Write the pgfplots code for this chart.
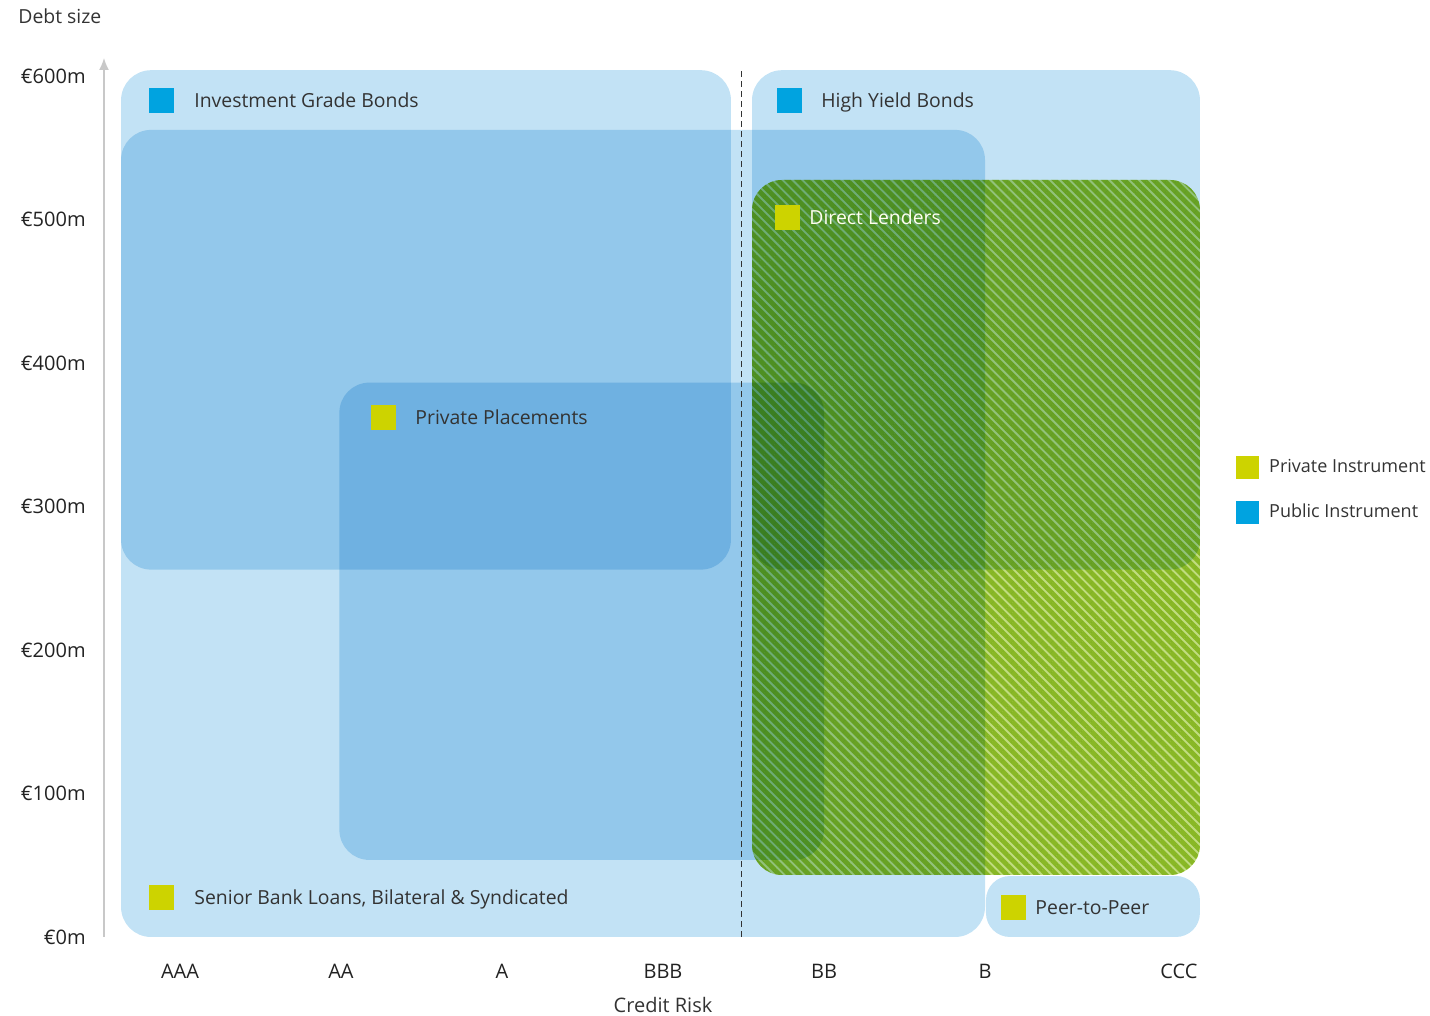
\documentclass[border=0pt]{standalone}
\usepackage{pgfplots}
\pgfplotsset{compat=1.18}
\usepackage{fontspec}
\setmainfont{Open Sans}
\usetikzlibrary{patterns.meta,arrows.meta}
\definecolor{layerblue}{HTML}{C2E2F5}
\definecolor{stripegreen}{HTML}{C0DC80}
\definecolor{greenmult}{HTML}{B6D64C}
\definecolor{txt}{HTML}{333333}
\definecolor{ticktxt}{HTML}{222222}
\definecolor{pubblue}{HTML}{00A3E0}
\definecolor{privyel}{HTML}{CDD300}
\definecolor{axgray}{HTML}{C8C8C8}
\begin{document}
\begin{tikzpicture}
\begin{axis}[
  scale only axis,
  width=548pt, height=439.5pt,
  xmin=-0.472, xmax=6.3354, ymin=0, ymax=612.5,
  clip=false,
  axis x line=bottom, axis y line=left,
  x axis line style={draw=none,-},
  y axis line style={draw=axgray, line width=0.75pt, -{Latex[length=6pt,width=5pt]}},
  tick style={draw=none}, major tick length=0pt,
  xtick={0,1,2,3,4,5,6.205},
  xticklabels={AAA,AA,A,BBB,BB,B,CCC},
  ytick={0,100,200,300,400,500,600},
  yticklabels={€0m,€100m,€200m,€300m,€400m,€500m,€600m},
  ticklabel style={font=\fontsize{10}{12}\selectfont, text=ticktxt},
  xticklabel style={anchor=center, yshift=-17pt},
  yticklabel style={anchor=east, inner sep=0pt, xshift=-9pt},
  legend style={at={(rel axis cs:1,0.509)}, anchor=west, xshift=18pt,
    draw=none, fill=none, inner sep=0pt, font=\fontsize{9}{11}\selectfont,
    nodes={inner sep=0pt, text=txt}, row sep=11pt,
    /tikz/every odd column/.append style={column sep=5pt}},
  legend cell align=left,
]
% blue layers (multiply blending)
\addplot[forget plot, draw=none, fill=layerblue, blend mode=multiply, rounded corners=15pt]
  coordinates {(2,0) (5.0,0) (5.0,562.4) (-0.366,562.4) (-0.366,0) (2,0)};
\addplot[forget plot, draw=none, fill=layerblue, blend mode=multiply, rounded corners=15pt]
  coordinates {(1.5,256) (3.422,256) (3.422,604) (-0.366,604) (-0.366,256) (1.5,256)};
\addplot[forget plot, draw=none, fill=layerblue, blend mode=multiply, rounded corners=15pt]
  coordinates {(5,256) (6.335,256) (6.335,604) (3.553,604) (3.553,256) (5,256)};
\addplot[forget plot, draw=none, fill=layerblue, blend mode=multiply, rounded corners=15pt]
  coordinates {(2.5,53.7) (4.0,53.7) (4.0,386.3) (0.990,386.3) (0.990,53.7) (2.5,53.7)};
\addplot[forget plot, draw=none, fill=layerblue, blend mode=multiply, rounded corners=12pt]
  coordinates {(5.6,0) (6.335,0) (6.335,42.5) (5.006,42.5) (5.006,0) (5.6,0)};
% dashed separator
\addplot[forget plot, color=txt, line width=0.5pt, dash pattern=on 3pt off 2pt]
  coordinates {(3.4845,0) (3.4845,604)};
% direct lenders (green, hatched): light green base + darker green lines, both multiplied
\addplot[forget plot, draw=none, fill=stripegreen, blend mode=multiply, rounded corners=15pt]
  coordinates {(5,43.2) (6.335,43.2) (6.335,527.5) (3.553,527.5) (3.553,43.2) (5,43.2)};
\addplot[forget plot, draw=none, rounded corners=15pt, blend mode=multiply,
  pattern={Lines[angle=-45, distance=3.5pt, line width=2.4pt]}, pattern color=greenmult]
  coordinates {(5,43.2) (6.335,43.2) (6.335,527.5) (3.553,527.5) (3.553,43.2) (5,43.2)};
% label squares
\addplot[forget plot, only marks, color=pubblue, mark=square*, mark size=6pt, mark options={draw=pubblue, fill=pubblue, line width=0pt}]
  coordinates {(-0.112,582.6) (3.783,582.6)};
\addplot[forget plot, only marks, color=privyel, mark=square*, mark size=6pt, mark options={draw=privyel, fill=privyel, line width=0pt}]
  coordinates {(3.776,501.7) (1.261,361.7) (-0.112,27.2) (5.180,20.9)};
% legend
\addlegendimage{legend image code/.code={\fill[privyel] (0pt,-5.5pt) rectangle (11pt,5.5pt);}}
\addlegendentry{Private Instrument}
\addlegendimage{legend image code/.code={\fill[pubblue] (0pt,-5.5pt) rectangle (11pt,5.5pt);}}
\addlegendentry{Public Instrument}
% texts
\begin{scope}[every node/.style={anchor=base west, inner sep=0pt, yshift=-3.5pt, text=txt, font=\fontsize{9.7}{12}\selectfont}]
\node at (axis cs:0.087,582.6) {Investment Grade Bonds};
\node at (axis cs:3.981,582.6) {High Yield Bonds};
\node[text=white!94!yellow] at (axis cs:3.907,501.7) {Direct Lenders};
\node at (axis cs:1.460,361.7) {Private Placements};
\node at (axis cs:0.087,27.2) {Senior Bank Loans, Bilateral \& Syndicated};
\node at (axis cs:5.311,20.9) {Peer-to-Peer};
\end{scope}
\node[anchor=west, inner sep=0pt, text=txt, font=\fontsize{9.7}{12}\selectfont, xshift=-43pt, yshift=21pt] at (rel axis cs:0,1) {Debt size};
\node[inner sep=0pt, text=txt, font=\fontsize{10}{12}\selectfont, yshift=-34pt] at (axis cs:3,0) {Credit Risk};
\end{axis}
\pgfresetboundingbox
\path[use as bounding box] (-52pt,-39.5pt) rectangle (663pt,468.5pt);
\end{tikzpicture}
\end{document}
